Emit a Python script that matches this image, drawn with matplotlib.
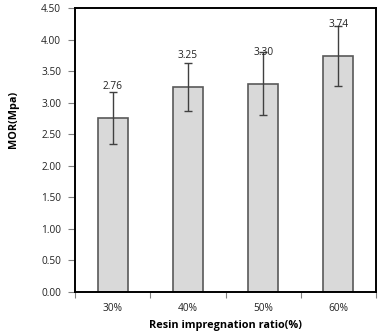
import numpy as np
import matplotlib
matplotlib.use("Agg")
import matplotlib.pyplot as plt

# data
categories = ["30%", "40%", "50%", "60%"]
mor = [2.76, 3.25, 3.30, 3.74]
mor_err = [0.41, 0.375, 0.5, 0.47]
labels = ["2.76", "3.25", "3.30", "3.74"]
yticks = [0.0, 0.5, 1.0, 1.5, 2.0, 2.5, 3.0, 3.5, 4.0, 4.5]

plt.rcParams['font.family'] = ['Open Sans', 'DejaVu Sans']

fig = plt.figure(figsize=(3.83, 3.34), dpi=100)
ax = fig.add_axes([75/383, 1 - 292/334, 301/383, 284/334])

x = np.arange(len(categories))
ax.bar(x, mor, width=0.4, color="#d9d9d9", edgecolor="#595959", linewidth=1.2, zorder=2)
ax.errorbar(x, mor, yerr=mor_err, fmt="none", ecolor="#404040", elinewidth=1.0,
            capsize=3, capthick=1.0, zorder=3)
for xi, v, lab in zip(x, mor, labels):
    ax.text(xi, v + 0.5, lab, ha="center", va="center", fontsize=7.3, color="#222222", zorder=4)

ax.set_xlim(-0.5, len(categories) - 0.5)
ax.set_ylim(0, 4.5)
ax.set_yticks(yticks)
ax.set_yticklabels(["%.2f" % t for t in yticks], fontsize=7.3, color="#222222")
ax.set_xticks(x)
ax.set_xticklabels(categories, fontsize=7.3, color="#222222")
ax.tick_params(axis="x", length=0, pad=8)
ax.set_xticks(np.arange(-0.5, len(categories)), minor=True)
ax.tick_params(axis="x", which="minor", length=4, width=0.8, color="#808080")
ax.tick_params(axis="y", length=5, width=0.8, color="#808080", pad=5)

for s in ax.spines.values():
    s.set_linewidth(1.4)
    s.set_color("black")

ax.set_xlabel("Resin impregnation ratio(%)", fontsize=7.8, fontweight="bold", labelpad=4)
ax.set_ylabel("MOR(Mpa)", fontsize=7.8, fontweight="bold")
ax.yaxis.set_label_coords(-0.186, 0.606)

fig.savefig("out.png", dpi=100)
